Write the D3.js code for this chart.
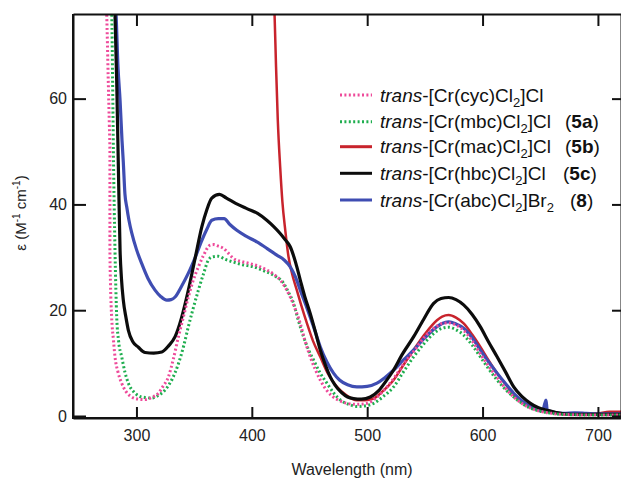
<!DOCTYPE html>
<html>
<head>
<meta charset="utf-8">
<script src="https://cdn.jsdelivr.net/npm/d3@7"></script>
<style>
  body { margin: 0; background: #fff; }
  svg { font-family: "Liberation Sans", Arial, sans-serif; }
</style>
</head>
<body>
<svg id="chart" width="621" height="479"></svg>
<script>
// spectra: [wavelength nm, epsilon]
var cyc = [[273.5,80],[274.2,76],[275.5,64],[276.5,55],[277,50.2],[277,31.3],[277.5,25],[278.5,18.7],[280,14.5],[281.4,11.2],[284,8.3],[287.2,6.2],[291,4.6],[295.9,3.6],[301,3.2],[307.5,3.1],[313,3.5],[319,4.3],[323,5.6],[327.7,7.4],[332,10.8],[336.4,15],[341,19],[345,22.5],[349,25.5],[353.7,28.2],[358,30.3],[363.9,32.3],[366.7,32.4],[371,32.1],[375.4,31.7],[380,30.7],[384,29.8],[391,29.2],[398.6,28.8],[406,28.3],[413,27.6],[419,26.8],[424.6,25.7],[429,24.3],[433.3,22.5],[438,20],[442,17.5],[446,14.3],[450.6,11.2],[455,8.8],[459.3,6.8],[465.1,4.8],[470,3.7],[476,2.9],[482.5,2.4],[491,2.2],[499.8,2.4],[508,3.5],[517.2,5.5],[525,7.7],[532,10],[540.3,12.2],[550,15],[560.5,17],[565,17.5],[570.6,17.6],[577,17.2],[583.6,16.2],[591,14.2],[598,11.8],[605,9.5],[612.6,7.3],[620,5.2],[627,3.6],[634,2.4],[641.5,1.5],[650,0.9],[660,0.5],[670,0.3],[690,0.2],[720,0.2]];

var mbc = [[278,80],[278.6,76],[279.3,64],[280,50.2],[281.4,31.3],[282.9,18.7],[284.5,14.2],[287.2,11.2],[290,8.3],[293,6.2],[298,4.5],[304.6,3.6],[313.3,3.4],[319,3.9],[324.8,4.9],[331,7],[336.4,9.9],[341,13.3],[345,16.9],[349,20.2],[353.7,23.8],[358,26.8],[362.4,29.5],[366,30.1],[371,30.2],[377,29.6],[384,29.1],[392,28.6],[401.5,28.2],[410,27.5],[418.8,26.6],[427.5,25.1],[432,23.3],[436.2,21.3],[440,18.3],[444.8,15],[449,12.6],[453.5,10.6],[459,8.2],[465.1,6.2],[470.8,4.4],[477,3],[484,2.2],[491,1.8],[498,1.9],[505.6,2.4],[514,3.7],[522.9,5.5],[531,8.2],[540.3,11.2],[549,13.6],[557.6,15.6],[564,16.5],[570.6,16.8],[577,16.3],[583.6,15.3],[591,13.4],[598,11.2],[605,9],[612.6,6.8],[620,5],[627,3.6],[634,2.4],[641.5,1.5],[650,0.9],[660,0.5],[670,0.3],[690,0.2],[720,0.2]];

var mac = [[419,80],[419.7,76],[421,66],[422.5,56],[424.6,47],[426.5,40.5],[429,35.1],[431.8,30.1],[435,26.8],[439,23.8],[443,20.8],[447.8,17.5],[453,14.2],[459.3,11.2],[466,8],[473.8,5.5],[482,3.9],[491,3],[498,3],[505.6,3.3],[513,4.6],[522.9,6.8],[531,9.5],[540.3,12.5],[550,15.5],[560.5,18.1],[565,18.8],[570.6,19.1],[577,18.6],[583.6,17.5],[591,15.4],[598,13.1],[605,10.6],[612.6,8.1],[620,6],[627,4],[634,2.7],[641.5,1.8],[650,1.1],[660,0.6],[670,0.4],[685,0.3],[700,0.5],[710,0.8],[720,0.8]];

var hbc = [[280,80],[281.4,76],[283,62],[284.5,45],[285.8,31.3],[287,26],[288.6,21.9],[291,18.5],[293,16.2],[297,14],[301.7,13],[307.5,12],[315,11.9],[322,12.1],[328,13.3],[333.5,15],[339,18.5],[345,23.8],[351,30],[356.7,35.8],[361,39],[365.3,41.2],[372,41.9],[378,41.2],[386,40.2],[395.7,39.2],[405,38.3],[413,37],[419,35.8],[424.6,34.5],[429,33.3],[433.3,32],[438,29],[442,25.7],[446,22.5],[450.6,19.4],[455,16],[459.3,12.5],[464,9.5],[468,7.4],[472,5.9],[478,4.4],[483,3.6],[488.2,3.3],[495,3.2],[502.7,3.6],[510,4.8],[516,6.5],[522.9,8.7],[530,11.5],[540.3,15],[549,18.3],[557.6,21.3],[564,22.2],[570.6,22.4],[577,22],[583.6,21],[591,19.2],[598,16.9],[605,14.1],[612.6,11.2],[620,8.3],[627,5.5],[634,3.7],[641.5,2.4],[648,1.6],[656,1.1],[663,0.7],[670.4,0.4],[685,0.3],[700,0.3],[720,0.3]];

var abc = [[281,80],[282.3,76],[284,66],[285.8,59.7],[287.5,52],[288.6,48],[290,42],[291.6,39.5],[293.5,37],[295.9,34.6],[300,31.5],[304.6,28.8],[310,26],[316.1,23.8],[321,22.6],[326.3,21.9],[330,22],[333.5,22.5],[339,24.5],[345,27],[351,30],[356.7,33.2],[361,35.3],[365.3,37],[371,37.3],[376,37.3],[381,36.2],[387,35.1],[395,34],[404.4,32.9],[413,31.7],[421.7,30.4],[428,29.5],[433.3,28.2],[438,26.2],[442,23.8],[448,20.3],[453.5,16.9],[459.3,13.1],[465.1,10.2],[470.8,8.1],[476,6.8],[483,5.9],[491,5.5],[500,5.6],[508.5,6.2],[515,7.2],[523,8.7],[531,10.5],[540.3,12.5],[550,14.8],[560.5,16.9],[565,17.5],[570.6,17.8],[577,17.4],[583.6,16.6],[591,14.8],[598,12.5],[605,10.3],[612.6,8.1],[620,6.1],[627,4.3],[634,2.9],[641.5,1.8],[648,1.2],[652,1],[654,2.4],[655,3],[656,1.2],[660,0.8],[670,0.5],[680,0.6],[690,0.5],[700,0.4],[720,0.4]];

var x_ticks = [300, 400, 500, 600, 700];
var y_ticks = [0, 20, 40, 60];

var series = [
    {name: 'cyc', tail: 'Cl', sub2: false, tag: '', data: cyc, color: '#ee4a9a', width: 3, dash: '2,2.4'},
    {name: 'mbc', tail: 'Cl', sub2: false, tag: '5a', data: mbc, color: '#1fae4f', width: 3, dash: '2,2.4'},
    {name: 'mac', tail: 'Cl', sub2: false, tag: '5b', data: mac, color: '#c8232c', width: 2.5, dash: null},
    {name: 'hbc', tail: 'Cl', sub2: false, tag: '5c', data: hbc, color: '#0c0c0c', width: 3.2, dash: null},
    {name: 'abc', tail: 'Br', sub2: true, tag: '8', data: abc, color: '#3f4db2', width: 3.2, dash: null}
];

var p_left = 73, p_right = 621, p_top = 14, p_bottom = 416;

var svg = d3.select('#chart');

var xScale = d3.scaleLinear().domain([245, 720]).range([p_left, p_right]);
var yScale = d3.scaleLinear().domain([0, 76]).range([p_bottom, p_top]);

svg.append('defs').append('clipPath')
    .attr('id', 'plotclip')
    .append('rect')
    .attr('x', p_left)
    .attr('y', p_top)
    .attr('width', p_right - p_left)
    .attr('height', p_bottom - p_top + 2);

var line = d3.line()
    .x(function(d) { return xScale(d[0]); })
    .y(function(d) { return yScale(d[1]); })
    .curve(d3.curveMonotoneX);

var plot = svg.append('g').attr('clip-path', 'url(#plotclip)');

// draw order: red under the rest, dotted on top
var order = [2, 4, 3, 1, 0];
order.forEach(function(i) {
    var s = series[i];
    plot.append('path')
        .datum(s.data)
        .attr('d', line)
        .attr('fill', 'none')
        .attr('stroke', s.color)
        .attr('stroke-width', s.width)
        .attr('stroke-dasharray', s.dash)
        .attr('stroke-linejoin', 'round');
});

// axes with inward ticks
var xBottom = d3.axisBottom(xScale).tickValues(x_ticks).tickSizeInner(-11).tickSizeOuter(0).tickPadding(12);
var xTop = d3.axisTop(xScale).tickValues(x_ticks).tickSizeInner(-12).tickSizeOuter(0).tickFormat('');
var yLeft = d3.axisLeft(yScale).tickValues(y_ticks).tickSizeInner(-13).tickSizeOuter(0).tickPadding(6);
var yRight = d3.axisRight(yScale).tickValues(y_ticks).tickSizeInner(-9).tickSizeOuter(0).tickFormat('');

function style_axis(g) {
    g.select('.domain').attr('stroke', '#111').attr('stroke-width', 2);
    g.selectAll('.tick line').attr('stroke', '#111').attr('stroke-width', 2);
    g.selectAll('.tick text').attr('fill', '#222').attr('font-size', 16)
        .attr('font-family', '"Liberation Sans", Arial, sans-serif');
}

svg.append('g').attr('transform', 'translate(0,418)').call(xBottom).call(style_axis);
svg.append('g').attr('transform', 'translate(0,' + p_top + ')').call(xTop).call(style_axis);
svg.append('g').attr('transform', 'translate(' + p_left + ',0)').call(yLeft).call(style_axis);
svg.append('g').attr('transform', 'translate(' + p_right + ',0)').call(yRight).call(style_axis);

// frame lines span the full box
svg.append('line').attr('x1', p_left).attr('x2', p_left).attr('y1', p_top).attr('y2', 419)
    .attr('stroke', '#111').attr('stroke-width', 2);
svg.append('line').attr('x1', p_left).attr('x2', p_right).attr('y1', 418).attr('y2', 418)
    .attr('stroke', '#111').attr('stroke-width', 2);

svg.append('text')
    .attr('x', 352)
    .attr('y', 475)
    .attr('text-anchor', 'middle')
    .attr('font-size', 16)
    .attr('fill', '#222')
    .text('Wavelength (nm)');

var ylab = svg.append('text')
    .attr('transform', 'translate(26,213) rotate(-90)')
    .attr('text-anchor', 'middle')
    .attr('font-size', 15)
    .attr('fill', '#222');
ylab.append('tspan').text('\u03b5 (M');
ylab.append('tspan').attr('font-size', 10).attr('dy', -6).text('-1');
ylab.append('tspan').attr('dy', 6).text(' cm');
ylab.append('tspan').attr('font-size', 10).attr('dy', -6).text('-1');
ylab.append('tspan').attr('dy', 6).text(')');

// legend
var leg_y = [95, 121.7, 146.7, 173.3, 200];
var tag_x = [0, 565, 565, 563, 570];

series.forEach(function(s, i) {
    var y = leg_y[i];
    svg.append('line')
        .attr('x1', 340).attr('x2', 372)
        .attr('y1', y).attr('y2', y)
        .attr('stroke', s.color)
        .attr('stroke-width', 3)
        .attr('stroke-dasharray', s.dash);

    var t = svg.append('text')
        .attr('x', 380)
        .attr('y', y + 6.5)
        .attr('font-size', 19)
        .attr('fill', '#111');
    t.append('tspan').attr('font-style', 'italic').text('trans');
    t.append('tspan').text('-[Cr(' + s.name + ')Cl');
    t.append('tspan').attr('font-size', 13).attr('dy', 5).text('2');
    t.append('tspan').attr('dy', -5).text(']' + s.tail);
    if (s.sub2) {
        t.append('tspan').attr('font-size', 13).attr('dy', 5).text('2');
    }
    if (s.tag != '') {
        var tg = svg.append('text')
            .attr('x', tag_x[i])
            .attr('y', y + 6.5)
            .attr('font-size', 19)
            .attr('fill', '#111');
        tg.append('tspan').text('(');
        tg.append('tspan').attr('font-weight', 'bold').text(s.tag);
        tg.append('tspan').text(')');
    }
});
</script>
</body>
</html>
